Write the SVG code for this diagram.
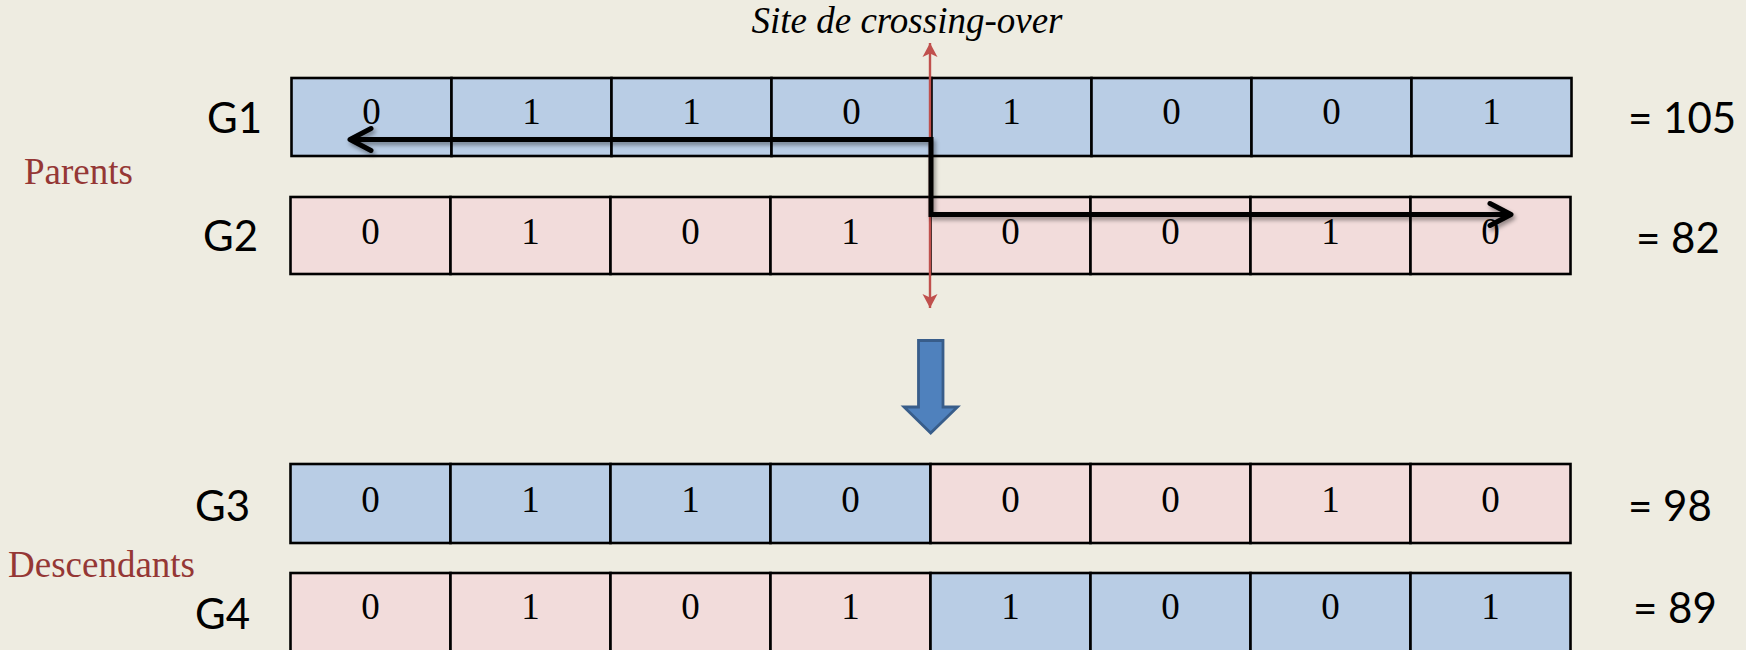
<svg xmlns="http://www.w3.org/2000/svg" width="1746" height="650" viewBox="0 0 1746 650">
  <style>
    .cell { stroke: #000; stroke-width: 2.6; }
    .a { fill: #B9CDE5; }
    .b { fill: #F2DCDB; }
    .bit { font-family: "Liberation Serif", "Times New Roman", serif; font-size: 37px; fill: #000; text-anchor: middle; }
    .name { font-family: Lato, "Open Sans", sans-serif; font-size: 42px; fill: #000; }
    .group { font-family: "Liberation Serif", "Times New Roman", serif; font-size: 37px; fill: #953735; }
    .site { font-family: "Liberation Serif", "Times New Roman", serif; font-size: 37px; font-style: italic; fill: #000; text-anchor: middle; }
  </style>
  <defs>
    <marker id="chevron" viewBox="-30 -15 35 30" markerWidth="35" markerHeight="30" refX="0" refY="0" markerUnits="userSpaceOnUse" orient="auto-start-reverse">
      <path d="M -21 -11 L 0 0 L -21 11" fill="none" stroke="#000" stroke-width="5" stroke-linecap="round" stroke-linejoin="round"/>
    </marker>
    <marker id="redhead" viewBox="-16 -9 18 18" markerWidth="18" markerHeight="18" refX="0" refY="0" markerUnits="userSpaceOnUse" orient="auto-start-reverse">
      <path d="M 0 0 L -14 7.5 L -10.5 0 L -14 -7.5 Z" fill="#C0504D"/>
    </marker>
    <filter id="shade" x="-5%" y="-20%" width="110%" height="150%">
      <feDropShadow dx="2" dy="3" stdDeviation="2" flood-color="#000" flood-opacity="0.4"/>
    </filter>
  </defs>

  <rect width="1746" height="650" fill="#EEECE1"/>

  <!-- side labels -->
  <g id="label-parents"><text class="group" x="24" y="184">Parents</text></g>
  <g id="label-descendants"><text class="group" x="8" y="577">Descendants</text></g>

  <!-- chromosome G1 : 01101001 -->
  <g id="g1">
    <text class="name" x="207" y="133">G1</text>
    <rect class="cell a" x="291.5" y="78" width="160" height="78"/>
    <rect class="cell a" x="451.5" y="78" width="160" height="78"/>
    <rect class="cell a" x="611.5" y="78" width="160" height="78"/>
    <rect class="cell a" x="771.5" y="78" width="160" height="78"/>
    <rect class="cell a" x="931.5" y="78" width="160" height="78"/>
    <rect class="cell a" x="1091.5" y="78" width="160" height="78"/>
    <rect class="cell a" x="1251.5" y="78" width="160" height="78"/>
    <rect class="cell a" x="1411.5" y="78" width="160" height="78"/>
    <text class="bit" x="371.5" y="124">0</text>
    <text class="bit" x="531.5" y="124">1</text>
    <text class="bit" x="691.5" y="124">1</text>
    <text class="bit" x="851.5" y="124">0</text>
    <text class="bit" x="1011.5" y="124">1</text>
    <text class="bit" x="1171.5" y="124">0</text>
    <text class="bit" x="1331.5" y="124">0</text>
    <text class="bit" x="1491.5" y="124">1</text>
    <text class="name" x="1628" y="133">= 105</text>
  </g>

  <!-- chromosome G2 : 01010010 -->
  <g id="g2">
    <text class="name" x="203" y="251">G2</text>
    <rect class="cell b" x="290.5" y="197" width="160" height="77"/>
    <rect class="cell b" x="450.5" y="197" width="160" height="77"/>
    <rect class="cell b" x="610.5" y="197" width="160" height="77"/>
    <rect class="cell b" x="770.5" y="197" width="160" height="77"/>
    <rect class="cell b" x="930.5" y="197" width="160" height="77"/>
    <rect class="cell b" x="1090.5" y="197" width="160" height="77"/>
    <rect class="cell b" x="1250.5" y="197" width="160" height="77"/>
    <rect class="cell b" x="1410.5" y="197" width="160" height="77"/>
    <text class="bit" x="370.5" y="244">0</text>
    <text class="bit" x="530.5" y="244">1</text>
    <text class="bit" x="690.5" y="244">0</text>
    <text class="bit" x="850.5" y="244">1</text>
    <text class="bit" x="1010.5" y="244">0</text>
    <text class="bit" x="1170.5" y="244">0</text>
    <text class="bit" x="1330.5" y="244">1</text>
    <text class="bit" x="1490.5" y="244">0</text>
    <text class="name" x="1636" y="253">= 82</text>
  </g>

  <!-- crossover site label -->
  <g id="site-label"><text class="site" x="907" y="33">Site de crossing-over</text></g>

  <!-- transition arrow -->
  <g id="down-arrow">
    <path d="M 918.5 340.5 H 943 V 407 H 957.5 L 930.7 433 L 904 407 H 918.5 Z" fill="#4F81BD" stroke="#385D8A" stroke-width="2.8" stroke-linejoin="miter"/>
  </g>

  <!-- offspring G3 : 01100010 -->
  <g id="g3">
    <text class="name" x="195" y="521">G3</text>
    <rect class="cell a" x="290.5" y="464" width="160" height="79"/>
    <rect class="cell a" x="450.5" y="464" width="160" height="79"/>
    <rect class="cell a" x="610.5" y="464" width="160" height="79"/>
    <rect class="cell a" x="770.5" y="464" width="160" height="79"/>
    <rect class="cell b" x="930.5" y="464" width="160" height="79"/>
    <rect class="cell b" x="1090.5" y="464" width="160" height="79"/>
    <rect class="cell b" x="1250.5" y="464" width="160" height="79"/>
    <rect class="cell b" x="1410.5" y="464" width="160" height="79"/>
    <text class="bit" x="370.5" y="512">0</text>
    <text class="bit" x="530.5" y="512">1</text>
    <text class="bit" x="690.5" y="512">1</text>
    <text class="bit" x="850.5" y="512">0</text>
    <text class="bit" x="1010.5" y="512">0</text>
    <text class="bit" x="1170.5" y="512">0</text>
    <text class="bit" x="1330.5" y="512">1</text>
    <text class="bit" x="1490.5" y="512">0</text>
    <text class="name" x="1628" y="521">= 98</text>
  </g>

  <!-- offspring G4 : 01011001 -->
  <g id="g4">
    <text class="name" x="195" y="629">G4</text>
    <rect class="cell b" x="290.5" y="573" width="160" height="79"/>
    <rect class="cell b" x="450.5" y="573" width="160" height="79"/>
    <rect class="cell b" x="610.5" y="573" width="160" height="79"/>
    <rect class="cell b" x="770.5" y="573" width="160" height="79"/>
    <rect class="cell a" x="930.5" y="573" width="160" height="79"/>
    <rect class="cell a" x="1090.5" y="573" width="160" height="79"/>
    <rect class="cell a" x="1250.5" y="573" width="160" height="79"/>
    <rect class="cell a" x="1410.5" y="573" width="160" height="79"/>
    <text class="bit" x="370.5" y="619">0</text>
    <text class="bit" x="530.5" y="619">1</text>
    <text class="bit" x="690.5" y="619">0</text>
    <text class="bit" x="850.5" y="619">1</text>
    <text class="bit" x="1010.5" y="619">1</text>
    <text class="bit" x="1170.5" y="619">0</text>
    <text class="bit" x="1330.5" y="619">0</text>
    <text class="bit" x="1490.5" y="619">1</text>
    <text class="name" x="1633" y="623">= 89</text>
  </g>

  <!-- connectors: crossover site marker and segment exchange path -->
  <g id="connectors">
    <path d="M 930 43 V 308" fill="none" stroke="#C0504D" stroke-width="2.4" marker-start="url(#redhead)" marker-end="url(#redhead)"/>
    <path d="M 350 139.5 H 931 V 214.5 H 1511" fill="none" stroke="#000" stroke-width="5" stroke-linejoin="miter" marker-start="url(#chevron)" marker-end="url(#chevron)" filter="url(#shade)"/>
  </g>
</svg>
